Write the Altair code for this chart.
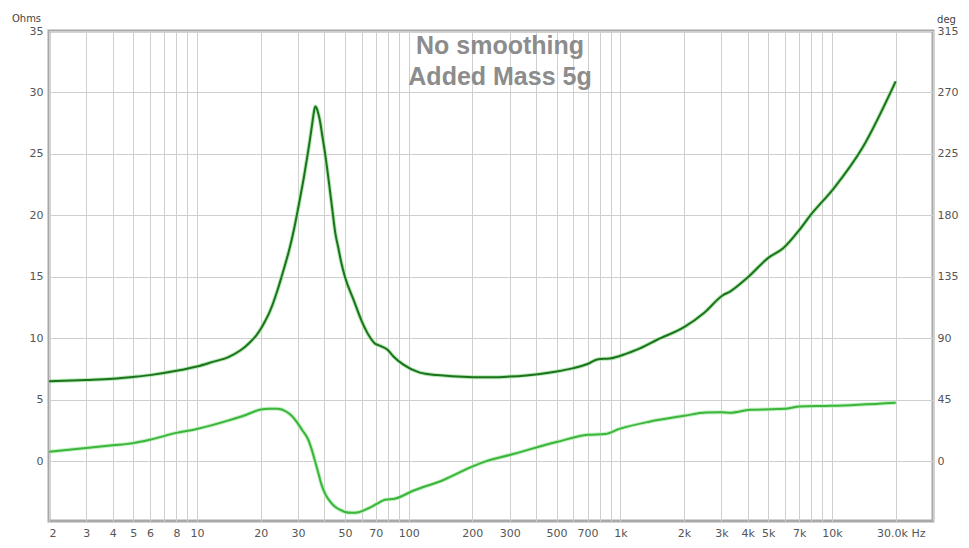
import altair as alt
import pandas as pd

# Impedance magnitude (Ohms) vs frequency (Hz)
imp_freq = [2, 3, 4, 5, 6, 8, 10, 12, 14, 16, 17, 18, 19, 20, 21, 22, 23, 24, 25, 26, 27,
            28, 29, 30, 31, 32, 33, 34, 35, 35.6, 36.2, 36.8, 37.4, 38.2, 39, 40, 41,
            42, 43.5, 45, 46.6, 48, 50, 55, 60, 65, 69, 73, 79, 85, 94.5, 113, 136,
            160, 202, 250, 300, 418, 500, 600, 700, 786, 890, 1070, 1190, 1500, 2000,
            2500, 3050, 3300, 3970, 5050, 5860, 7000, 7900, 10200, 14040, 20000]
imp_ohms = [6.5, 6.6, 6.7, 6.85, 7.0, 7.35, 7.7, 8.1, 8.45, 9.0, 9.35, 9.75, 10.2, 10.75,
            11.4, 12.1, 12.95, 13.9, 14.9, 15.9, 16.9, 18.0, 19.2, 20.5, 21.8, 23.1, 24.5,
            25.9, 27.4, 28.3, 28.85, 28.7, 28.3, 27.6, 26.6, 25.4, 24.1, 22.7, 20.6, 18.6,
            17.3, 16.2, 15.0, 13.1, 11.4, 10.2, 9.6, 9.4, 9.1, 8.5, 7.85, 7.2, 7.0, 6.9,
            6.83, 6.82, 6.88, 7.1, 7.3, 7.57, 7.9, 8.3, 8.35, 8.75, 9.05, 9.9, 10.9, 12.1,
            13.5, 13.8, 14.9, 16.6, 17.3, 18.8, 20.0, 22.2, 25.6, 30.9]

# Impedance phase (degrees) vs frequency (Hz)
ph_freq = [2, 3, 4, 5, 6, 8, 10, 14, 17, 20, 22, 24, 26.6, 28, 30, 31.5, 33.4, 35,
           36.2, 37.5, 38.8, 40.5, 42.5, 44.5, 46, 47.3, 50, 53.9, 58, 61, 66, 70.7,
           77.4, 86, 105, 146, 202, 233, 300, 500, 705, 845, 990, 1370, 2000, 2540,
           3000, 3300, 4100, 5500, 6200, 7000, 9900, 20000]
ph_deg = [6.8, 9.6, 11.6, 13.2, 15.7, 20.7, 23.6, 29.7, 33.8, 37.8, 38.3, 38.3, 36.0,
          33.3, 27.5, 22.5, 16.4, 7.5, -0.5, -9.0, -17.4, -24.5, -29.4, -32.8, -34.5,
          -35.5, -37.2, -37.8, -37.4, -36.2, -33.8, -31.3, -28.2, -27.5, -21.7, -13.8,
          -3.6, 0.0, 4.5, 14.0, 19.3, 19.8, 23.6, 28.9, 33.2, 35.6, 35.8, 35.4, 37.6,
          38.1, 38.6, 40.0, 40.5, 42.8]

x_grid_values = [2, 3, 4, 5, 6, 7, 8, 9, 10, 20, 30, 40, 50, 60, 70, 80, 90,
                 100, 200, 300, 400, 500, 600, 700, 800, 900,
                 1000, 2000, 3000, 4000, 5000, 6000, 7000, 8000, 9000,
                 10000, 20000, 30000]
x_label_text = {2: "2", 3: "3", 4: "4", 5: "5", 6: "6", 8: "8", 10: "10", 20: "20",
                30: "30", 50: "50", 70: "70", 100: "100", 200: "200", 300: "300",
                500: "500", 700: "700", 1000: "1k", 2000: "2k", 3000: "3k", 4000: "4k",
                5000: "5k", 7000: "7k", 10000: "10k", 30000: "30.0k Hz"}
ohm_ticks = [0, 5, 10, 15, 20, 25, 30, 35]
deg_ticks = [0, 45, 90, 135, 180, 225, 270, 315]
ohm_domain = [-4.87, 35]
deg_domain = [-43.83, 315]
title_lines = "No smoothing\nAdded Mass 5g"

label_expr = "''"
for v, t in x_label_text.items():
    label_expr = f"datum.value == {v} ? '{t}' : ({label_expr})"

imp_df = pd.DataFrame({"f": imp_freq, "z": imp_ohms})
ph_df = pd.DataFrame({"f": ph_freq, "p": ph_deg})

FONT = "DejaVu Sans"
LBL = "#555555"
W, H = 884, 490

x_enc = alt.X(
    "f:Q",
    scale=alt.Scale(type="log", domain=[2, 30000], nice=False),
    axis=alt.Axis(
        values=x_grid_values, labelExpr=label_expr, labelOverlap=False, title=None,
        grid=True, gridColor="#cfcfcf", ticks=False, tickSize=0, domain=False,
        labelPadding=6, labelFont=FONT, labelFontSize=11, labelColor=LBL,
        labelBound=False,
        labelOffset={"condition": {"test": "datum.value >= 30000", "value": -8}, "value": 0},
    ),
)

y_imp = alt.Y(
    "z:Q",
    scale=alt.Scale(domain=ohm_domain, nice=False, zero=False),
    axis=alt.Axis(
        orient="left", values=ohm_ticks, grid=True, gridColor="#cfcfcf", ticks=False,
        tickSize=0, domain=False, labelPadding=6, labelFont=FONT, labelFontSize=11,
        labelColor=LBL, title="Ohms", titleAngle=0, titleAlign="center",
        titleBaseline="alphabetic", titleX=-23, titleY=-10, titleFont=FONT,
        titleFontSize=10, titleFontWeight="normal", titleColor="#444444",
    ),
)

y_ph = alt.Y(
    "p:Q",
    scale=alt.Scale(domain=deg_domain, nice=False, zero=False),
    axis=alt.Axis(
        orient="right", values=deg_ticks, grid=False, ticks=False, tickSize=0,
        domain=False, labelPadding=4, labelFont=FONT, labelFontSize=11,
        labelColor=LBL, title="deg", titleAngle=0, titleAlign="center",
        titleBaseline="alphabetic", titleX=13, titleY=-9, titleFont=FONT,
        titleFontSize=10, titleFontWeight="normal", titleColor="#444444",
    ),
)

imp_base = alt.Chart(imp_df).encode(x=x_enc, y=y_imp)
imp_layer = alt.layer(
    imp_base.mark_line(color="#a4e3a4", strokeWidth=4, opacity=0.8, interpolate="monotone"),
    imp_base.mark_line(color="#1c731c", strokeWidth=2, interpolate="monotone"),
)

ph_base = alt.Chart(ph_df).encode(x=x_enc, y=y_ph)
ph_layer = alt.layer(
    ph_base.mark_line(color="#b2ecb2", strokeWidth=4, opacity=0.8, interpolate="monotone"),
    ph_base.mark_line(color="#3cb53c", strokeWidth=2, interpolate="monotone"),
)

title_layer = alt.Chart(pd.DataFrame({"t": [title_lines]})).mark_text(
    font="Liberation Sans", fontSize=25, fontWeight="bold", color="#8c8c8c",
    align="center", baseline="alphabetic", lineBreak="\n", lineHeight=31,
).encode(text="t:N", x=alt.value(451), y=alt.value(23))

chart = alt.layer(imp_layer, ph_layer, title_layer).resolve_scale(
    y="independent"
).properties(
    width=W, height=H,
    autosize=alt.AutoSizeParams(type="none"),
    padding={"left": 41, "top": 23, "right": 28, "bottom": 17},
    background="white",
).configure_view(stroke="#a8a8a8", strokeWidth=3)

chart.save("out.html", embed_options={"renderer": "svg", "actions": False})
